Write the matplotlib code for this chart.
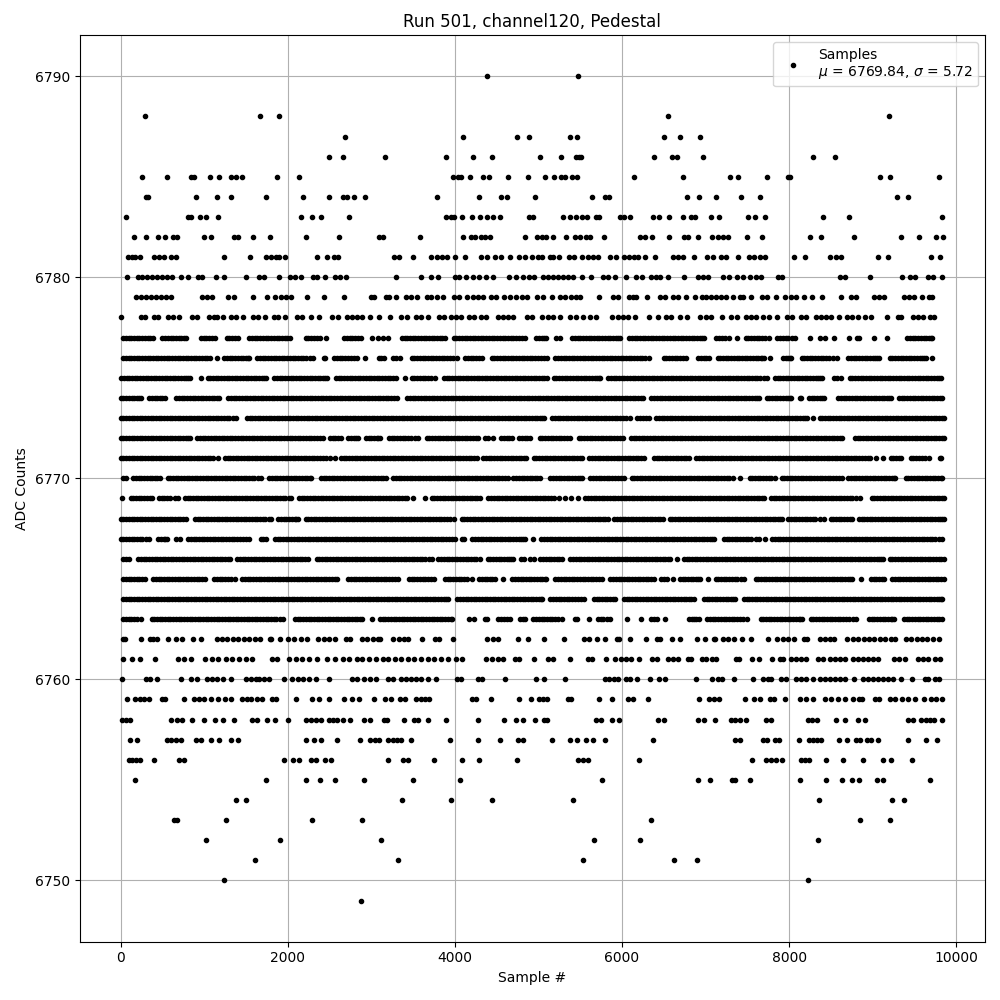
#!/usr/bin/env python3
"""Pedestal scatter for run 501, channel 120."""
import matplotlib
matplotlib.use("Agg")
import matplotlib.pyplot as plt

# Sample numbers per ADC level. The sparse levels are
# dot by dot; the dense levels (6762-6777) overlap too much to count, so they
# are estimates that follow the visible runs and gaps. The d67xx lists hold
# the further dots of those dense runs.
s6790 = [4379, 5473]
s6788 = [295, 1673, 1900, 6551, 9198]
s6787 = [2679, 4092, 4739, 4882, 5377, 5461, 6503, 6695, 6934]
s6786 = [2499, 2655, 3158, 3888, 4212, 4439, 5018, 5269, 5445, 5485, 5513, 6383, 6599, 6663, 6970, 8287, 8551]
s6785 = [259, 559, 838, 878, 1074, 1182, 1325, 1377, 1457, 1876, 2140, 3980, 4032, 4072, 4176, 4339, 4411, 4635, 4870,
         5078, 5186, 5265, 5321, 5401, 5465, 6144, 6731, 7293, 7389, 7736, 7988, 8012, 9090, 9210, 9796]
s6784 = [299, 331, 906, 1158, 1325, 1745, 2188, 2499, 2655, 2707, 2798, 2930, 3780, 4283, 4547, 4619, 4954,
         5641, 5796, 5844, 6778, 6922, 7126, 7425, 7653, 9293, 9425]
s6783 = [68, 806, 846, 954, 1018, 1170, 2164, 2295, 2403, 2727, 3896, 3952, 3992, 4084, 4200, 4295, 4387, 4451, 4535,
         4890, 4930, 5293, 5377, 5449, 5517, 5581, 5685, 5725, 5972, 6020, 6096, 6371, 6443, 6563, 6731, 6827, 6879,
         7066, 7162, 7509, 7593, 7713, 8407, 8719, 9832]
s6782 = [156, 307, 451, 535, 627, 679, 1002, 1078, 1357, 1405, 1589, 1792, 2212, 2607, 3086, 3142, 3577, 4092, 4192,
         4240, 4315, 4363, 4423, 4834, 4978, 5046, 5094, 5174, 5329, 5433, 5493, 5573, 5613, 5784, 6212, 6271, 6359,
         6563, 6739, 6786, 6910, 7082, 7150, 7210, 7269, 7497, 7677, 8251, 8383, 8778, 9341, 9557, 9760, 9844]
s6781 = [88, 140, 168, 236, 399, 459, 519, 599, 659, 1241, 1553, 1737, 1796, 1856, 1896, 1972, 2355, 2475, 2555, 2603,
         3273, 3333, 3493, 3709, 3780, 3844, 3908, 4004, 4116, 4311, 4379, 4479, 4551, 4655, 4770, 4842, 4922, 4994,
         5046, 5134, 5174, 5242, 5365, 5425, 5521, 5593, 5653, 5713, 5852, 5924, 6024, 6084, 6144, 6192, 6275, 6391,
         6611, 6671, 6731, 6862, 7018, 7090, 7190, 7250, 7389, 7517, 7577, 7649, 7713, 8060, 8192, 8487, 8559, 8619,
         9066, 9186, 9701, 9804]
s6780 = [80, 212, 259, 319, 379, 439, 499, 559, 619, 727, 810, 926, 978, 1146, 1237, 1505, 1657, 1717, 1900, 2024, 2088,
         2164, 2303, 2355, 2447, 2567, 2623, 2691, 3301, 3593, 3709, 3792, 3996, 4044, 4132, 4212, 4291, 4371, 4451,
         4651, 4730, 4810, 4890, 4950, 5054, 5114, 5174, 5233, 5293, 5353, 5413, 5521, 5633, 5772, 5832, 5916, 6048,
         6172, 6236, 6347, 6411, 6459, 6551, 6743, 6910, 6970, 7030, 7210, 7281, 7377, 7449, 7529, 7609, 7669, 7868,
         7916, 8607, 8667, 8970, 9353, 9445, 9505, 9665, 9725, 9828]
s6779 = [180, 240, 299, 359, 419, 479, 539, 599, 978, 1038, 1098, 1289, 1361, 1581, 1757, 1844, 1916, 1976, 2036, 2235,
         2439, 2675, 2994, 3034, 3173, 3213, 3301, 3413, 3469, 3541, 3661, 3713, 3780, 3852, 3992, 4052, 4144, 4220,
         4279, 4331, 4431, 4491, 4583, 4663, 4730, 4802, 4858, 4978, 5054, 5166, 5261, 5321, 5393, 5453, 5493, 5725,
         5892, 5952, 6080, 6132, 6172, 6299, 6451, 6511, 6611, 6671, 6770, 6870, 6954, 7010, 7070, 7130, 7190, 7250,
         7329, 7409, 7449, 7545, 7677, 7736, 7844, 7956, 8028, 8088, 8180, 8272, 8395, 8623, 8743, 8806, 9018, 9074,
         9138, 9373, 9433, 9493, 9585, 9673, 9713]
s6778 = [8, 240, 287, 399, 447, 571, 627, 699, 858, 918, 1058, 1118, 1158, 1230, 1317, 1377, 1469, 1589, 1649, 1729,
         1836, 1884, 1964, 2116, 2176, 2275, 2375, 2535, 2595, 2707, 2774, 2834, 2894, 2978, 3086, 3225, 3353, 3425,
         3533, 3593, 3673, 3812, 3872, 3952, 4012, 4072, 4164, 4232, 4311, 4371, 4511, 4571, 4631, 4691, 4858, 4926,
         5046, 5114, 5174, 5253, 5373, 5453, 5533, 5613, 5693, 5884, 5952, 6012, 6072, 6156, 6323, 6431, 6531, 6591,
         6691, 6782, 6930, 7010, 7070, 7202, 7309, 7373, 7489, 7549, 7609, 7689, 7760, 7856, 7980, 8036, 8148, 8208,
         8327, 8387, 8447, 8507, 8599, 8695, 8747, 8826, 8906, 8986, 9174, 9305, 9345, 9485, 9545, 9605, 9685, 9737]
s6777 = [30, 95, 160, 225, 290, 355, 390, 500, 565, 630, 695, 760, 780, 960, 1025, 1090, 1125, 1270, 1335, 1405, 1540,
         1605, 1670, 1735, 1800, 1865, 1930, 1995, 2025, 2215, 2280, 2345, 2390, 2463, 2675, 2740, 2805, 2880, 3002,
         3074, 3134, 3194, 3365, 3430, 3495, 3560, 3625, 3690, 3755, 3820, 3880, 3985, 4050, 4115, 4180, 4245, 4310,
         4375, 4440, 4505, 4570, 4635, 4700, 4765, 4840, 4975, 5040, 5085, 5215, 5260, 5405, 5470, 5535, 5600, 5665,
         5730, 5795, 5860, 5925, 5980, 6085, 6150, 6215, 6280, 6345, 6410, 6475, 6540, 6605, 6670, 6735, 6800, 6865,
         6930, 6980, 7130, 7200, 7275, 7377, 7480, 7545, 7610, 7675, 7755, 7860, 7925, 7990, 8075, 8251, 8365, 8435,
         8535, 8714, 8815, 8835, 9018, 9174, 9415, 9480, 9545, 9610, 9675, 9715]
d6777 = [62, 127, 192, 257, 322, 532, 597, 662, 727, 992, 1057, 1302, 1370, 1572, 1637, 1702, 1767, 1832, 1897, 1962,
         2247, 2312, 2707, 2772, 2842, 3397, 3462, 3527, 3592, 3657, 3722, 3787, 3850, 4017, 4082, 4147, 4212, 4277,
         4342, 4407, 4472, 4537, 4602, 4667, 4732, 4800, 5007, 5062, 5437, 5502, 5567, 5632, 5697, 5762, 5827, 5892,
         5952, 6117, 6182, 6247, 6312, 6377, 6442, 6507, 6572, 6637, 6702, 6767, 6832, 6897, 6955, 7165, 7237, 7512,
         7577, 7642, 7715, 7892, 7957, 8032, 9447, 9512, 9577, 9642, 9695]
s6776 = [30, 95, 160, 225, 290, 355, 420, 485, 550, 615, 680, 745, 810, 875, 940, 1005, 1065, 1158, 1240, 1305, 1370,
         1435, 1500, 1540, 1635, 1700, 1765, 1830, 1895, 1960, 2025, 2090, 2155, 2220, 2300, 2437, 2445, 2557, 2622,
         2687, 2752, 2830, 2926, 3092, 3150, 3255, 3340, 3483, 3548, 3613, 3678, 3743, 3808, 3873, 3938, 4020, 4122,
         4187, 4252, 4320, 4441, 4506, 4571, 4636, 4701, 4766, 4831, 4896, 4961, 5026, 5100, 5203, 5268, 5333, 5398,
         5463, 5528, 5593, 5658, 5723, 5788, 5853, 5918, 5983, 6048, 6113, 6178, 6243, 6320, 6500, 6565, 6630, 6695,
         6765, 6912, 6977, 7040, 7144, 7209, 7274, 7339, 7404, 7469, 7534, 7599, 7664, 7698, 7776, 7926, 7990, 8026,
         8150, 8215, 8280, 8345, 8410, 8475, 8575, 8709, 8774, 8839, 8904, 8969, 9034, 9075, 9204, 9269, 9334, 9399,
         9464, 9529, 9594, 9635, 9713]
d6776 = [62, 127, 192, 257, 322, 387, 452, 517, 582, 647, 712, 777, 842, 907, 972, 1035, 1272, 1337, 1402, 1467, 1520,
         1667, 1732, 1797, 1862, 1927, 1992, 2057, 2122, 2187, 2260, 2589, 2654, 2719, 2791, 3121, 3297, 3515, 3580,
         3645, 3710, 3775, 3840, 3905, 3979, 4154, 4219, 4286, 4473, 4538, 4603, 4668, 4733, 4798, 4863, 4928, 4993,
         5063, 5235, 5300, 5365, 5430, 5495, 5560, 5625, 5690, 5755, 5820, 5885, 5950, 6015, 6080, 6145, 6210, 6281,
         6532, 6597, 6662, 6730, 6944, 7008, 7176, 7241, 7306, 7371, 7436, 7501, 7566, 7631, 7681, 7958, 8008, 8182,
         8247, 8312, 8377, 8442, 8525, 8741, 8806, 8871, 8936, 9001, 9055, 9236, 9301, 9366, 9431, 9496, 9561, 9615]
s6775 = [5, 70, 135, 200, 265, 330, 395, 460, 525, 590, 655, 720, 785, 826, 958, 1040, 1105, 1170, 1235, 1300, 1365,
         1430, 1495, 1560, 1625, 1690, 1745, 1838, 1903, 1968, 2033, 2098, 2163, 2228, 2293, 2358, 2423, 2465, 2577,
         2642, 2707, 2772, 2837, 2902, 2967, 3032, 3097, 3162, 3227, 3300, 3401, 3483, 3548, 3613, 3678, 3760, 3870,
         3935, 4000, 4065, 4130, 4195, 4260, 4325, 4390, 4455, 4520, 4585, 4650, 4715, 4780, 4845, 4910, 4975, 5040,
         5103, 5184, 5249, 5314, 5379, 5444, 5509, 5574, 5639, 5704, 5734, 5834, 5899, 5964, 6029, 6094, 6159, 6224,
         6289, 6354, 6419, 6484, 6549, 6614, 6679, 6744, 6809, 6874, 6939, 7004, 7069, 7134, 7199, 7264, 7329, 7394,
         7459, 7524, 7589, 7654, 7738, 7830, 7895, 7960, 8025, 8090, 8155, 8220, 8285, 8350, 8396, 8537, 8616, 8725,
         8790, 8855, 8920, 8985, 9050, 9115, 9180, 9245, 9310, 9375, 9440, 9505, 9570, 9635, 9700, 9765, 9813]
d6775 = [37, 102, 167, 232, 297, 362, 427, 492, 557, 622, 687, 752, 805, 1072, 1137, 1202, 1267, 1332, 1397, 1462, 1527,
         1592, 1657, 1718, 1870, 1935, 2000, 2065, 2130, 2195, 2260, 2325, 2390, 2445, 2609, 2674, 2739, 2804, 2869,
         2934, 2999, 3064, 3129, 3194, 3263, 3515, 3580, 3645, 3719, 3902, 3967, 4032, 4097, 4162, 4227, 4292, 4357,
         4422, 4487, 4552, 4617, 4682, 4747, 4812, 4877, 4942, 5007, 5072, 5216, 5281, 5346, 5411, 5476, 5541, 5606,
         5671, 5719, 5866, 5931, 5996, 6061, 6126, 6191, 6256, 6321, 6386, 6451, 6516, 6581, 6646, 6711, 6776, 6841,
         6906, 6971, 7036, 7101, 7166, 7231, 7296, 7361, 7426, 7491, 7556, 7621, 7696, 7862, 7927, 7992, 8057, 8122,
         8187, 8252, 8317, 8373, 8575, 8757, 8822, 8887, 8952, 9017, 9082, 9147, 9212, 9277, 9342, 9407, 9472, 9537,
         9602, 9667, 9732, 9789]
s6774 = [0, 65, 130, 195, 248, 341, 406, 471, 528, 665, 730, 795, 860, 925, 990, 1055, 1120, 1178, 1287, 1352, 1417,
         1482, 1547, 1612, 1677, 1742, 1807, 1872, 1937, 2002, 2067, 2132, 2197, 2262, 2327, 2392, 2457, 2522, 2587,
         2652, 2717, 2782, 2847, 2912, 2977, 3042, 3107, 3172, 3237, 3302, 3430, 3495, 3560, 3625, 3690, 3755, 3820,
         3885, 3950, 4015, 4080, 4145, 4210, 4275, 4340, 4405, 4470, 4535, 4600, 4665, 4730, 4795, 4860, 4925, 4990,
         5055, 5120, 5185, 5250, 5315, 5380, 5445, 5510, 5575, 5640, 5705, 5770, 5835, 5900, 5965, 6030, 6095, 6160,
         6225, 6252, 6353, 6418, 6483, 6548, 6613, 6678, 6743, 6808, 6873, 6938, 7003, 7068, 7133, 7198, 7263, 7328,
         7393, 7458, 7523, 7588, 7637, 7731, 7796, 7861, 7926, 7991, 8028, 8130, 8145, 8238, 8303, 8368, 8415, 8589,
         8654, 8719, 8784, 8849, 8914, 8979, 9044, 9109, 9174, 9214, 9315, 9380, 9445, 9510, 9575, 9640, 9705, 9770,
         9832]
d6774 = [32, 97, 162, 225, 373, 438, 500, 697, 762, 827, 892, 957, 1022, 1087, 1150, 1319, 1384, 1449, 1514, 1579, 1644,
         1709, 1774, 1839, 1904, 1969, 2034, 2099, 2164, 2229, 2294, 2359, 2424, 2489, 2554, 2619, 2684, 2749, 2814,
         2879, 2944, 3009, 3074, 3139, 3204, 3270, 3462, 3527, 3592, 3657, 3722, 3787, 3852, 3917, 3982, 4047, 4112,
         4177, 4242, 4307, 4372, 4437, 4502, 4567, 4632, 4697, 4762, 4827, 4892, 4957, 5022, 5087, 5152, 5217, 5282,
         5347, 5412, 5477, 5542, 5607, 5672, 5737, 5802, 5867, 5932, 5997, 6062, 6127, 6192, 6385, 6450, 6515, 6580,
         6645, 6710, 6775, 6840, 6905, 6970, 7035, 7100, 7165, 7230, 7295, 7360, 7425, 7490, 7555, 7620, 7763, 7828,
         7893, 7958, 8010, 8270, 8335, 8392, 8621, 8686, 8751, 8816, 8881, 8946, 9011, 9076, 9141, 9195, 9347, 9412,
         9477, 9542, 9607, 9672, 9737, 9802]
s6773 = [0, 65, 130, 195, 260, 325, 390, 455, 520, 585, 650, 715, 780, 845, 910, 975, 1040, 1105, 1170, 1235, 1300,
         1385, 1510, 1575, 1640, 1705, 1770, 1835, 1900, 1965, 2030, 2095, 2160, 2225, 2290, 2355, 2420, 2485, 2550,
         2615, 2680, 2745, 2810, 2875, 2940, 3005, 3070, 3135, 3200, 3265, 3330, 3395, 3460, 3525, 3590, 3655, 3720,
         3785, 3850, 3915, 3980, 4045, 4110, 4175, 4240, 4305, 4370, 4435, 4500, 4565, 4630, 4695, 4760, 4825, 4890,
         4955, 5020, 5062, 5164, 5229, 5294, 5359, 5424, 5489, 5554, 5619, 5684, 5749, 5814, 5879, 5944, 6009, 6092,
         6184, 6249, 6319, 6409, 6474, 6539, 6604, 6669, 6734, 6799, 6864, 6929, 6994, 7059, 7124, 7189, 7254, 7319,
         7384, 7449, 7514, 7579, 7644, 7709, 7774, 7839, 7904, 7969, 8034, 8099, 8164, 8215, 8287, 8365, 8430, 8495,
         8560, 8625, 8690, 8755, 8820, 8885, 8950, 9015, 9080, 9145, 9210, 9275, 9340, 9405, 9470, 9535, 9600, 9665,
         9730, 9795, 9852]
d6773 = [32, 97, 162, 227, 292, 357, 422, 487, 552, 617, 682, 747, 812, 877, 942, 1007, 1072, 1137, 1202, 1267, 1342,
         1542, 1607, 1672, 1737, 1802, 1867, 1932, 1997, 2062, 2127, 2192, 2257, 2322, 2387, 2452, 2517, 2582, 2647,
         2712, 2777, 2842, 2907, 2972, 3037, 3102, 3167, 3232, 3297, 3362, 3427, 3492, 3557, 3622, 3687, 3752, 3817,
         3882, 3947, 4012, 4077, 4142, 4207, 4272, 4337, 4402, 4467, 4532, 4597, 4662, 4727, 4792, 4857, 4922, 4987,
         5040, 5196, 5261, 5326, 5391, 5456, 5521, 5586, 5651, 5716, 5781, 5846, 5911, 5976, 6050, 6216, 6284, 6441,
         6506, 6571, 6636, 6701, 6766, 6831, 6896, 6961, 7026, 7091, 7156, 7221, 7286, 7351, 7416, 7481, 7546, 7611,
         7676, 7741, 7806, 7871, 7936, 8001, 8066, 8131, 8190, 8397, 8462, 8527, 8592, 8657, 8722, 8787, 8852, 8917,
         8982, 9047, 9112, 9177, 9242, 9307, 9372, 9437, 9502, 9567, 9632, 9697, 9762, 9825]
s6772 = [0, 65, 130, 195, 260, 325, 390, 455, 520, 585, 650, 715, 780, 826, 916, 981, 1046, 1111, 1176, 1241, 1306,
         1371, 1436, 1501, 1566, 1631, 1696, 1761, 1826, 1891, 1956, 2021, 2086, 2151, 2216, 2281, 2346, 2423, 2505,
         2570, 2631, 2725, 2790, 2842, 2936, 3001, 3066, 3102, 3212, 3277, 3342, 3407, 3472, 3561, 3663, 3728, 3793,
         3858, 3923, 3988, 4053, 4118, 4183, 4248, 4279, 4361, 4459, 4553, 4618, 4678, 4772, 4837, 4898, 5018, 5048,
         5113, 5178, 5243, 5308, 5381, 5483, 5548, 5613, 5678, 5743, 5808, 5873, 5938, 6012, 6106, 6171, 6236, 6301,
         6366, 6431, 6496, 6561, 6626, 6691, 6756, 6821, 6886, 6951, 7016, 7081, 7146, 7211, 7276, 7341, 7406, 7471,
         7536, 7601, 7666, 7731, 7796, 7861, 7926, 7991, 8056, 8121, 8186, 8251, 8316, 8381, 8446, 8511, 8576, 8635,
         8788, 8853, 8918, 8983, 9048, 9113, 9178, 9243, 9308, 9373, 9438, 9503, 9568, 9633, 9698, 9763, 9852]
d6772 = [32, 97, 162, 227, 292, 357, 422, 487, 552, 617, 682, 747, 805, 948, 1013, 1078, 1143, 1208, 1273, 1338, 1403,
         1468, 1533, 1598, 1663, 1728, 1793, 1858, 1923, 1988, 2053, 2118, 2183, 2248, 2313, 2390, 2537, 2600, 2757,
         2815, 2968, 3033, 3085, 3244, 3309, 3374, 3439, 3520, 3695, 3760, 3825, 3890, 3955, 4020, 4085, 4150, 4215,
         4400, 4585, 4648, 4804, 4868, 5080, 5145, 5210, 5275, 5345, 5515, 5580, 5645, 5710, 5775, 5840, 5905, 5975,
         6138, 6203, 6268, 6333, 6398, 6463, 6528, 6593, 6658, 6723, 6788, 6853, 6918, 6983, 7048, 7113, 7178, 7243,
         7308, 7373, 7438, 7503, 7568, 7633, 7698, 7763, 7828, 7893, 7958, 8023, 8088, 8153, 8218, 8283, 8348, 8413,
         8478, 8543, 8608, 8820, 8885, 8950, 9015, 9080, 9145, 9210, 9275, 9340, 9405, 9470, 9535, 9600, 9665, 9730,
         9795, 9825]
s6771 = [0, 65, 130, 195, 260, 325, 390, 455, 520, 585, 650, 715, 780, 845, 910, 975, 1040, 1106, 1170, 1247, 1312,
         1377, 1442, 1507, 1572, 1637, 1702, 1767, 1832, 1897, 1962, 2027, 2092, 2157, 2222, 2287, 2352, 2417, 2503,
         2567, 2637, 2702, 2767, 2832, 2897, 2962, 3027, 3092, 3157, 3222, 3287, 3352, 3417, 3482, 3547, 3612, 3677,
         3742, 3807, 3872, 3937, 4002, 4067, 4132, 4197, 4259, 4341, 4406, 4471, 4536, 4601, 4666, 4731, 4796, 4850,
         4944, 5009, 5074, 5139, 5204, 5269, 5334, 5399, 5464, 5521, 5611, 5676, 5741, 5806, 5871, 5936, 6001, 6066,
         6131, 6196, 6261, 6381, 6446, 6511, 6576, 6641, 6706, 6771, 6798, 6888, 6953, 7018, 7083, 7148, 7213, 7278,
         7343, 7408, 7473, 7538, 7603, 7668, 7733, 7798, 7863, 7928, 7993, 8058, 8123, 8188, 8253, 8318, 8383, 8448,
         8513, 8578, 8643, 8708, 8773, 8838, 8903, 8974, 9046, 9126, 9216, 9281, 9345, 9455, 9520, 9585, 9673, 9802,
         9812]
d6771 = [32, 97, 162, 227, 292, 357, 422, 487, 552, 617, 682, 747, 812, 877, 942, 1007, 1072, 1279, 1344, 1409, 1474,
         1539, 1604, 1669, 1734, 1799, 1864, 1929, 1994, 2059, 2124, 2189, 2254, 2319, 2384, 2460, 2669, 2734, 2799,
         2864, 2929, 2994, 3059, 3124, 3189, 3254, 3319, 3384, 3449, 3514, 3579, 3644, 3709, 3774, 3839, 3904, 3969,
         4034, 4099, 4164, 4228, 4373, 4438, 4503, 4568, 4633, 4698, 4763, 4823, 4976, 5041, 5106, 5171, 5236, 5301,
         5366, 5431, 5495, 5643, 5708, 5773, 5838, 5903, 5968, 6033, 6098, 6163, 6228, 6413, 6478, 6543, 6608, 6673,
         6738, 6920, 6985, 7050, 7115, 7180, 7245, 7310, 7375, 7440, 7505, 7570, 7635, 7700, 7765, 7830, 7895, 7960,
         8025, 8090, 8155, 8220, 8285, 8350, 8415, 8480, 8545, 8610, 8675, 8740, 8805, 8870, 8940, 9248, 9315, 9487,
         9552, 9630]
s6770 = [30, 68, 150, 215, 280, 345, 410, 467, 561, 626, 691, 756, 821, 886, 951, 1016, 1081, 1146, 1211, 1276, 1341,
         1406, 1471, 1536, 1601, 1685, 1779, 1844, 1909, 1974, 2039, 2104, 2169, 2234, 2283, 2397, 2462, 2527, 2592,
         2657, 2722, 2787, 2852, 2917, 2982, 3047, 3112, 3181, 3263, 3328, 3393, 3458, 3523, 3588, 3653, 3718, 3783,
         3848, 3913, 3978, 4043, 4108, 4173, 4238, 4303, 4368, 4433, 4498, 4563, 4639, 4701, 4766, 4831, 4896, 4961,
         5014, 5144, 5209, 5274, 5339, 5404, 5469, 5521, 5623, 5688, 5753, 5818, 5883, 5948, 6020, 6114, 6179, 6244,
         6309, 6374, 6439, 6504, 6569, 6634, 6699, 6764, 6829, 6894, 6959, 7024, 7089, 7154, 7219, 7284, 7329, 7417,
         7527, 7592, 7657, 7722, 7787, 7836, 7910, 7975, 8040, 8105, 8170, 8235, 8300, 8365, 8430, 8495, 8560, 8635,
         8709, 8774, 8839, 8904, 8969, 9034, 9099, 9164, 9229, 9273, 9395, 9460, 9525, 9590, 9655, 9720, 9785, 9832]
d6770 = [182, 247, 312, 377, 440, 593, 658, 723, 788, 853, 918, 983, 1048, 1113, 1178, 1243, 1308, 1373, 1438, 1503,
         1568, 1640, 1811, 1876, 1941, 2006, 2071, 2136, 2201, 2260, 2429, 2494, 2559, 2624, 2689, 2754, 2819, 2884,
         2949, 3014, 3079, 3145, 3295, 3360, 3425, 3490, 3555, 3620, 3685, 3750, 3815, 3880, 3945, 4010, 4075, 4140,
         4205, 4270, 4335, 4400, 4465, 4530, 4600, 4733, 4798, 4863, 4928, 4988, 5176, 5241, 5306, 5371, 5436, 5495,
         5655, 5720, 5785, 5850, 5915, 5985, 6146, 6211, 6276, 6341, 6406, 6471, 6536, 6601, 6666, 6731, 6796, 6861,
         6926, 6991, 7056, 7121, 7186, 7251, 7559, 7624, 7689, 7754, 7942, 8007, 8072, 8137, 8202, 8267, 8332, 8397,
         8462, 8527, 8597, 8741, 8806, 8871, 8936, 9001, 9066, 9131, 9196, 9250, 9427, 9492, 9557, 9622, 9687, 9752, 9812]
s6769 = [12, 118, 183, 248, 313, 379, 457, 522, 587, 687, 769, 834, 899, 964, 1029, 1094, 1159, 1224, 1289, 1354, 1419,
         1484, 1549, 1614, 1679, 1744, 1809, 1874, 1939, 2044, 2134, 2199, 2264, 2329, 2394, 2459, 2524, 2589, 2654,
         2719, 2784, 2849, 2914, 2979, 3044, 3109, 3174, 3239, 3304, 3369, 3421, 3503, 3641, 3723, 3788, 3853, 3918,
         3983, 4048, 4113, 4178, 4243, 4299, 4401, 4466, 4531, 4596, 4661, 4726, 4791, 4856, 4921, 4986, 5051, 5116,
         5182, 5245, 5313, 5393, 5473, 5563, 5628, 5693, 5758, 5823, 5888, 5953, 6018, 6083, 6148, 6213, 6278, 6343,
         6408, 6473, 6538, 6603, 6668, 6733, 6798, 6863, 6928, 6993, 7058, 7123, 7188, 7253, 7318, 7383, 7448, 7513,
         7578, 7643, 7697, 7782, 7847, 7912, 7977, 8042, 8107, 8172, 8237, 8302, 8367, 8432, 8497, 8562, 8627, 8692,
         8757, 8846, 8988, 9053, 9118, 9183, 9248, 9313, 9378, 9443, 9508, 9573, 9638, 9703, 9768, 9852]
d6769 = [150, 215, 280, 346, 489, 554, 650, 801, 866, 931, 996, 1061, 1126, 1191, 1256, 1321, 1386, 1451, 1516, 1581,
         1646, 1711, 1776, 1841, 1906, 1971, 2010, 2166, 2231, 2296, 2361, 2426, 2491, 2556, 2621, 2686, 2751, 2816,
         2881, 2946, 3011, 3076, 3141, 3206, 3271, 3336, 3400, 3755, 3820, 3885, 3950, 4015, 4080, 4145, 4210, 4270,
         4433, 4498, 4563, 4628, 4693, 4758, 4823, 4888, 4953, 5018, 5083, 5150, 5595, 5660, 5725, 5790, 5855, 5920,
         5985, 6050, 6115, 6180, 6245, 6310, 6375, 6440, 6505, 6570, 6635, 6700, 6765, 6830, 6895, 6960, 7025, 7090,
         7155, 7220, 7285, 7350, 7415, 7480, 7545, 7610, 7670, 7814, 7879, 7944, 8009, 8074, 8139, 8204, 8269, 8334,
         8399, 8464, 8529, 8594, 8659, 8724, 8800, 9020, 9085, 9150, 9215, 9280, 9345, 9410, 9475, 9540, 9605, 9670,
         9735, 9800, 9830]
s6768 = [0, 65, 130, 195, 260, 325, 390, 455, 520, 585, 650, 715, 786, 888, 953, 1018, 1083, 1148, 1213, 1278, 1343,
         1408, 1473, 1538, 1603, 1668, 1733, 1804, 1886, 1951, 2016, 2081, 2123, 2213, 2278, 2343, 2408, 2473, 2538,
         2603, 2668, 2733, 2798, 2863, 2928, 2993, 3058, 3123, 3188, 3253, 3318, 3383, 3448, 3513, 3578, 3643, 3708,
         3773, 3838, 3903, 3988, 4082, 4147, 4212, 4277, 4342, 4407, 4472, 4537, 4602, 4667, 4732, 4797, 4862, 4927,
         4992, 5057, 5122, 5187, 5252, 5317, 5382, 5447, 5512, 5577, 5642, 5707, 5772, 5832, 5910, 5975, 6040, 6105,
         6170, 6235, 6300, 6365, 6430, 6491, 6569, 6634, 6699, 6764, 6829, 6894, 6959, 7024, 7089, 7154, 7219, 7284,
         7349, 7414, 7479, 7544, 7609, 7674, 7739, 7804, 7869, 7916, 7990, 8055, 8120, 8185, 8250, 8315, 8415, 8497,
         8562, 8627, 8692, 8754, 8836, 8901, 8966, 9031, 9096, 9161, 9226, 9291, 9356, 9421, 9486, 9551, 9616, 9681,
         9746, 9811, 9852]
d6768 = [32, 97, 162, 227, 292, 357, 422, 487, 552, 617, 682, 750, 920, 985, 1050, 1115, 1180, 1245, 1310, 1375, 1440,
         1505, 1570, 1635, 1700, 1770, 1918, 1983, 2048, 2102, 2245, 2310, 2375, 2440, 2505, 2570, 2635, 2700, 2765,
         2830, 2895, 2960, 3025, 3090, 3155, 3220, 3285, 3350, 3415, 3480, 3545, 3610, 3675, 3740, 3805, 3870, 3945,
         4114, 4179, 4244, 4309, 4374, 4439, 4504, 4569, 4634, 4699, 4764, 4829, 4894, 4959, 5024, 5089, 5154, 5219,
         5284, 5349, 5414, 5479, 5544, 5609, 5674, 5739, 5800, 5942, 6007, 6072, 6137, 6202, 6267, 6332, 6397, 6460,
         6601, 6666, 6731, 6796, 6861, 6926, 6991, 7056, 7121, 7186, 7251, 7316, 7381, 7446, 7511, 7576, 7641, 7706,
         7771, 7836, 7893, 8022, 8087, 8152, 8217, 8282, 8365, 8529, 8594, 8659, 8725, 8868, 8933, 8998, 9063, 9128,
         9193, 9258, 9323, 9388, 9453, 9518, 9583, 9648, 9713, 9778, 9832]
s6767 = [0, 65, 130, 195, 260, 339, 449, 514, 555, 657, 715, 808, 873, 938, 1003, 1068, 1133, 1198, 1263, 1328, 1393,
         1458, 1537, 1679, 1736, 1846, 1911, 1976, 2041, 2106, 2171, 2236, 2301, 2366, 2431, 2496, 2561, 2626, 2691,
         2756, 2821, 2886, 2951, 3016, 3081, 3146, 3211, 3276, 3341, 3406, 3471, 3536, 3601, 3666, 3731, 3796, 3861,
         3926, 4000, 4082, 4108, 4210, 4275, 4340, 4405, 4470, 4535, 4600, 4665, 4730, 4795, 4838, 4930, 5036, 5101,
         5166, 5231, 5296, 5361, 5426, 5491, 5556, 5621, 5686, 5751, 5816, 5881, 5946, 6011, 6076, 6141, 6206, 6271,
         6336, 6401, 6466, 6531, 6596, 6661, 6726, 6791, 6856, 6921, 6986, 7051, 7098, 7220, 7285, 7350, 7415, 7480,
         7545, 7637, 7717, 7798, 7863, 7928, 7993, 8058, 8123, 8188, 8253, 8318, 8383, 8448, 8513, 8578, 8643, 8708,
         8773, 8838, 8903, 8968, 9033, 9098, 9163, 9228, 9293, 9358, 9423, 9488, 9553, 9618, 9683, 9748, 9832]
d6767 = [32, 97, 162, 227, 300, 481, 535, 840, 905, 970, 1035, 1100, 1165, 1230, 1295, 1360, 1425, 1500, 1708, 1878,
         1943, 2008, 2073, 2138, 2203, 2268, 2333, 2398, 2463, 2528, 2593, 2658, 2723, 2788, 2853, 2918, 2983, 3048,
         3113, 3178, 3243, 3308, 3373, 3438, 3503, 3568, 3633, 3698, 3763, 3828, 3893, 3960, 4242, 4307, 4372, 4437,
         4502, 4567, 4632, 4697, 4762, 4815, 5068, 5133, 5198, 5263, 5328, 5393, 5458, 5523, 5588, 5653, 5718, 5783,
         5848, 5913, 5978, 6043, 6108, 6173, 6238, 6303, 6368, 6433, 6498, 6563, 6628, 6693, 6758, 6823, 6888, 6953,
         7018, 7075, 7252, 7317, 7382, 7447, 7512, 7600, 7830, 7895, 7960, 8025, 8090, 8155, 8220, 8285, 8350, 8415,
         8480, 8545, 8610, 8675, 8740, 8805, 8870, 8935, 9000, 9065, 9130, 9195, 9260, 9325, 9390, 9455, 9520, 9585,
         9650, 9715, 9790]
s6766 = [30, 96, 210, 275, 340, 405, 470, 535, 600, 665, 730, 795, 860, 925, 990, 1055, 1120, 1185, 1250, 1305, 1395,
         1460, 1525, 1590, 1655, 1720, 1785, 1850, 1915, 1980, 2045, 2110, 2175, 2243, 2345, 2410, 2475, 2540, 2605,
         2670, 2735, 2800, 2865, 2930, 2995, 3060, 3125, 3190, 3255, 3320, 3385, 3450, 3515, 3580, 3645, 3721, 3803,
         3868, 3933, 3998, 4063, 4128, 4193, 4258, 4299, 4393, 4458, 4523, 4588, 4653, 4698, 4790, 4830, 4900, 4950,
         5024, 5089, 5154, 5219, 5281, 5383, 5448, 5513, 5578, 5643, 5708, 5773, 5838, 5903, 5968, 6033, 6098, 6163,
         6228, 6293, 6358, 6423, 6488, 6553, 6579, 6659, 6741, 6806, 6871, 6936, 7001, 7066, 7131, 7196, 7261, 7326,
         7391, 7456, 7521, 7586, 7651, 7716, 7781, 7846, 7911, 7976, 8041, 8106, 8171, 8236, 8301, 8366, 8431, 8496,
         8561, 8626, 8691, 8756, 8821, 8886, 8951, 9016, 9081, 9126, 9204, 9269, 9334, 9399, 9464, 9529, 9594, 9659,
         9724, 9789, 9852]
d6766 = [62, 242, 307, 372, 437, 502, 567, 632, 697, 762, 827, 892, 957, 1022, 1087, 1152, 1217, 1280, 1427, 1492, 1557,
         1622, 1687, 1752, 1817, 1882, 1947, 2012, 2077, 2142, 2210, 2377, 2442, 2507, 2572, 2637, 2702, 2767, 2832,
         2897, 2962, 3027, 3092, 3157, 3222, 3287, 3352, 3417, 3482, 3547, 3612, 3685, 3835, 3900, 3965, 4030, 4095,
         4160, 4225, 4425, 4490, 4555, 4620, 4676, 5056, 5121, 5186, 5250, 5415, 5480, 5545, 5610, 5675, 5740, 5805,
         5870, 5935, 6000, 6065, 6130, 6195, 6260, 6325, 6390, 6455, 6520, 6773, 6838, 6903, 6968, 7033, 7098, 7163,
         7228, 7293, 7358, 7423, 7488, 7553, 7618, 7683, 7748, 7813, 7878, 7943, 8008, 8073, 8138, 8203, 8268, 8333,
         8398, 8463, 8528, 8593, 8658, 8723, 8788, 8853, 8918, 8983, 9048, 9105, 9236, 9301, 9366, 9431, 9496, 9561,
         9626, 9691, 9756, 9820]
s6765 = [30, 95, 160, 225, 287, 389, 454, 519, 584, 649, 714, 779, 844, 909, 974, 1006, 1120, 1185, 1250, 1315, 1365,
         1455, 1520, 1585, 1650, 1715, 1780, 1845, 1910, 1975, 2040, 2105, 2170, 2235, 2300, 2365, 2430, 2495, 2560,
         2583, 2725, 2790, 2855, 2920, 2985, 3050, 3115, 3180, 3245, 3321, 3451, 3516, 3581, 3646, 3711, 3748, 3882,
         3947, 4012, 4077, 4142, 4200, 4293, 4358, 4423, 4479, 4571, 4689, 4754, 4819, 4884, 4949, 5014, 5079, 5094,
         5203, 5268, 5333, 5398, 5463, 5528, 5593, 5658, 5723, 5760, 5862, 5927, 5992, 6057, 6122, 6187, 6252, 6317,
         6379, 6461, 6539, 6611, 6693, 6758, 6823, 6888, 6938, 7030, 7120, 7185, 7250, 7315, 7380, 7465, 7599, 7664,
         7729, 7794, 7859, 7924, 7989, 8054, 8119, 8184, 8249, 8314, 8379, 8444, 8509, 8574, 8639, 8704, 8754, 8866,
         8980, 9045, 9110, 9134, 9235, 9300, 9365, 9430, 9495, 9560, 9625, 9690, 9755, 9820, 9852]
d6765 = [62, 127, 192, 257, 421, 486, 551, 616, 681, 746, 811, 876, 941, 1152, 1217, 1282, 1487, 1552, 1617, 1682, 1747,
         1812, 1877, 1942, 2007, 2072, 2137, 2202, 2267, 2332, 2397, 2462, 2527, 2757, 2822, 2887, 2952, 3017, 3082,
         3147, 3212, 3280, 3483, 3548, 3613, 3678, 3914, 3979, 4044, 4109, 4325, 4390, 4450, 4721, 4786, 4851, 4916,
         4981, 5046, 5235, 5300, 5365, 5430, 5495, 5560, 5625, 5690, 5894, 5959, 6024, 6089, 6154, 6219, 6284, 6349,
         6500, 6725, 6790, 6855, 6915, 7152, 7217, 7282, 7347, 7430, 7631, 7696, 7761, 7826, 7891, 7956, 8021, 8086,
         8151, 8216, 8281, 8346, 8411, 8476, 8541, 8606, 8671, 8730, 9012, 9078, 9267, 9332, 9397, 9462, 9527, 9592,
         9657, 9722, 9787]
s6764 = [30, 95, 160, 225, 290, 355, 420, 485, 550, 615, 680, 745, 810, 875, 940, 1005, 1070, 1135, 1200, 1265, 1330,
         1395, 1460, 1525, 1590, 1655, 1720, 1785, 1850, 1915, 1980, 2045, 2110, 2175, 2240, 2305, 2370, 2435, 2500,
         2565, 2630, 2695, 2760, 2825, 2890, 2955, 3020, 3085, 3150, 3215, 3280, 3345, 3410, 3475, 3540, 3605, 3670,
         3735, 3800, 3865, 3920, 4030, 4095, 4160, 4225, 4290, 4355, 4420, 4485, 4550, 4615, 4680, 4745, 4810, 4875,
         4940, 5005, 5042, 5144, 5209, 5274, 5339, 5404, 5469, 5541, 5663, 5728, 5793, 5858, 5920, 6022, 6087, 6152,
         6217, 6282, 6347, 6412, 6477, 6542, 6607, 6672, 6737, 6802, 6858, 6980, 7045, 7110, 7175, 7240, 7305, 7357,
         7459, 7524, 7589, 7654, 7719, 7784, 7849, 7914, 7979, 8044, 8109, 8174, 8239, 8304, 8369, 8434, 8499, 8564,
         8629, 8694, 8759, 8824, 8889, 8954, 9019, 9084, 9149, 9214, 9279, 9344, 9409, 9474, 9539, 9604, 9669, 9734,
         9799, 9832]
d6764 = [62, 127, 192, 257, 322, 387, 452, 517, 582, 647, 712, 777, 842, 907, 972, 1037, 1102, 1167, 1232, 1297, 1362,
         1427, 1492, 1557, 1622, 1687, 1752, 1817, 1882, 1947, 2012, 2077, 2142, 2207, 2272, 2337, 2402, 2467, 2532,
         2597, 2662, 2727, 2792, 2857, 2922, 2987, 3052, 3117, 3182, 3247, 3312, 3377, 3442, 3507, 3572, 3637, 3702,
         3767, 3832, 3895, 4062, 4127, 4192, 4257, 4322, 4387, 4452, 4517, 4582, 4647, 4712, 4777, 4842, 4907, 4972,
         5025, 5176, 5241, 5306, 5371, 5436, 5505, 5695, 5760, 5825, 5890, 6054, 6119, 6184, 6249, 6314, 6379, 6444,
         6509, 6574, 6639, 6704, 6769, 6830, 7012, 7077, 7142, 7207, 7272, 7332, 7491, 7556, 7621, 7686, 7751, 7816,
         7881, 7946, 8011, 8076, 8141, 8206, 8271, 8336, 8401, 8466, 8531, 8596, 8661, 8726, 8791, 8856, 8921, 8986,
         9051, 9116, 9181, 9246, 9311, 9376, 9441, 9506, 9571, 9636, 9701, 9766, 9816]
s6763 = [30, 95, 160, 239, 369, 434, 499, 564, 629, 694, 759, 824, 889, 954, 1019, 1084, 1149, 1214, 1279, 1344, 1409,
         1474, 1539, 1604, 1669, 1734, 1799, 1864, 1944, 2086, 2151, 2216, 2281, 2346, 2411, 2476, 2541, 2606, 2671,
         2736, 2801, 2866, 2894, 3002, 3104, 3169, 3234, 3299, 3364, 3429, 3494, 3559, 3624, 3689, 3754, 3819, 3884,
         3949, 3960, 4164, 4232, 4361, 4379, 4521, 4586, 4659, 4780, 4838, 4940, 5005, 5070, 5135, 5200, 5281, 5443,
         5461, 5605, 5711, 5776, 5860, 6062, 6228, 6353, 6419, 6515, 6800, 6865, 6918, 7020, 7085, 7150, 7215, 7280,
         7345, 7410, 7497, 7659, 7724, 7789, 7854, 7919, 7984, 8049, 8114, 8156, 8258, 8323, 8388, 8453, 8518, 8583,
         8648, 8713, 8806, 8956, 9021, 9086, 9151, 9216, 9253, 9375, 9440, 9505, 9570, 9635, 9700, 9765, 9832]
d6763 = [62, 127, 200, 401, 466, 531, 596, 661, 726, 791, 856, 921, 986, 1051, 1116, 1181, 1246, 1311, 1376, 1441, 1506,
         1571, 1636, 1701, 1766, 1831, 1905, 2118, 2183, 2248, 2313, 2378, 2443, 2508, 2573, 2638, 2703, 2768, 2833,
         3136, 3201, 3266, 3331, 3396, 3461, 3526, 3591, 3656, 3721, 3786, 3851, 3916, 4553, 4620, 4810, 4972, 5037,
         5102, 5167, 5240, 5745, 5820, 6387, 6832, 6890, 7052, 7117, 7182, 7247, 7312, 7377, 7450, 7691, 7756, 7821,
         7886, 7951, 8016, 8081, 8135, 8290, 8355, 8420, 8485, 8550, 8615, 8680, 8760, 8988, 9053, 9118, 9183, 9235,
         9407, 9472, 9537, 9602, 9667, 9732, 9800]
s6762 = [30, 50, 247, 349, 389, 429, 571, 667, 739, 868, 966, 1148, 1213, 1278, 1343, 1408, 1473, 1538, 1603, 1665,
         1787, 1804, 1912, 2008, 2076, 2156, 2224, 2365, 2430, 2495, 2563, 2697, 2742, 2884, 2949, 3014, 3079, 3102,
         3263, 3328, 3393, 3441, 3603, 3763, 3812, 3972, 4389, 4454, 4519, 4750, 4870, 5064, 5303, 5543, 5601, 5701,
         5802, 5942, 5962, 6096, 6282, 6421, 6451, 6601, 6699, 6902, 6998, 7100, 7118, 7210, 7269, 7341, 7441, 7545,
         7749, 7858, 7923, 7988, 8056, 8178, 8215, 8365, 8430, 8495, 8535, 8697, 8762, 8827, 8892, 8957, 9022, 9087,
         9152, 9217, 9273, 9395, 9460, 9525, 9590, 9655, 9720, 9792]
s6761 = [28, 140, 236, 415, 687, 758, 838, 1010, 1098, 1170, 1265, 1337, 1417, 1497, 1577, 1816, 1868, 2016, 2096, 2176,
         2248, 2351, 2475, 2567, 2655, 2727, 2834, 2894, 2974, 3054, 3134, 3194, 3285, 3353, 3433, 3513, 3593, 3673,
         3753, 3832, 3912, 4012, 4080, 4371, 4443, 4511, 4571, 4722, 4770, 4950, 5114, 5174, 5377, 5593, 5641, 5808,
         5916, 5992, 6052, 6112, 6204, 6359, 6423, 6551, 6611, 6671, 6790, 6830, 6958, 7010, 7078, 7130, 7369, 7401,
         7557, 7641, 7796, 7896, 7928, 8028, 8088, 8148, 8208, 8347, 8407, 8487, 8547, 8607, 8667, 8766, 8826, 8886,
         8946, 9006, 9066, 9257, 9313, 9393, 9545, 9597, 9665, 9745, 9804]
s6760 = [20, 299, 347, 439, 727, 838, 918, 1038, 1098, 1158, 1230, 1317, 1497, 1557, 1617, 1657, 1717, 1776, 1960, 2048,
         2120, 2184, 2248, 2335, 2495, 2774, 2834, 2914, 2982, 3054, 3205, 3261, 3353, 3413, 3473, 3533, 3593, 3673,
         3772, 4020, 4072, 4271, 4323, 4595, 4970, 5062, 5321, 5792, 5844, 5900, 5952, 6052, 6092, 6180, 6331, 6443,
         6511, 6890, 7078, 7150, 7202, 7337, 7569, 7689, 7749, 7788, 7908, 7968, 8088, 8148, 8208, 8287, 8367, 8427,
         8487, 8547, 8607, 8667, 8782, 8886, 8946, 9006, 9066, 9126, 9186, 9245, 9345, 9465, 9625, 9665, 9745, 9796]
s6759 = [80, 172, 228, 279, 339, 499, 527, 762, 878, 938, 998, 1078, 1170, 1249, 1317, 1449, 1517, 1557, 1637, 1689,
         1816, 1856, 2104, 2295, 2375, 2499, 2667, 2774, 2858, 3026, 3158, 3233, 3345, 3405, 3533, 3593, 3645, 3693,
         4204, 4252, 4427, 4770, 4910, 5006, 5054, 5102, 5353, 5393, 5729, 5880, 6072, 6132, 6311, 6922, 7042, 7098,
         7162, 7473, 7577, 7653, 7768, 7820, 7956, 8128, 8208, 8287, 8427, 8507, 8587, 8674, 8766, 8838, 8878, 9026,
         9074, 9209, 9269, 9349, 9429, 9501, 9609, 9697, 9757, 9832]
s6758 = [20, 60, 108, 607, 679, 731, 854, 1002, 1134, 1222, 1361, 1577, 1633, 1749, 1852, 2008, 2223, 2275, 2335, 2395,
         2495, 2547, 2587, 2655, 2747, 2918, 2982, 3146, 3185, 3385, 3505, 3561, 3673, 3888, 4271, 4583, 4727, 4810,
         4958, 5062, 5102, 5685, 5752, 5880, 5964, 6431, 6499, 6910, 6982, 7114, 7309, 7349, 7409, 7481, 7729, 7788,
         8228, 8275, 8335, 8559, 8671, 8826, 8906, 9425, 9485, 9573, 9633, 9685, 9737, 9832]
s6757 = [116, 200, 559, 599, 659, 727, 898, 966, 1086, 1182, 1325, 1409, 2223, 2315, 2395, 2587, 2870, 2978, 3042, 3086,
         3205, 3261, 3313, 3353, 3469, 3936, 4271, 4535, 4750, 4810, 5162, 5377, 5461, 5569, 5653, 5796, 6371, 7349,
         7417, 7689, 7737, 7836, 7876, 8120, 8236, 8287, 8335, 8379, 8599, 8695, 8806, 8854, 8934, 8986, 9066, 9425,
         9641, 9773]
s6756 = [100, 140, 180, 228, 403, 699, 758, 1960, 2068, 2140, 2283, 2335, 2451, 2523, 3205, 3373, 3433, 3745, 4080,
         4283, 4739, 5473, 5533, 5597, 6204, 7557, 7725, 7788, 7848, 7916, 8140, 8188, 8240, 8443, 8647, 8886, 9126,
         9221, 9473]
s6755 = [176, 1745, 2212, 2391, 2571, 2918, 3493, 4056, 5760, 6910, 7054, 7321, 7357, 7533, 8132, 8443, 8635, 8754,
         8838, 9054, 9118, 9689]
s6754 = [1385, 1505, 3361, 3948, 4439, 5413, 8359, 9233, 9377]
s6753 = [635, 679, 1265, 2295, 2894, 6347, 8850, 9210]
s6752 = [1026, 1912, 3110, 5665, 6216, 8347]
s6751 = [1613, 3325, 5533, 6623, 6898]
s6750 = [1241, 8228]
s6749 = [2882]

levels = [6790, 6788, 6787, 6786, 6785, 6784, 6783, 6782, 6781, 6780, 6779, 6778, 6777, 6776, 6775, 6774, 6773, 6772,
          6771, 6770, 6769, 6768, 6767, 6766, 6765, 6764, 6763, 6762, 6761, 6760, 6759, 6758, 6757, 6756, 6755, 6754,
          6753, 6752, 6751, 6750, 6749,
          6777, 6776, 6775, 6774, 6773, 6772, 6771, 6770, 6769, 6768, 6767, 6766, 6765, 6764, 6763]
samples = [s6790, s6788, s6787, s6786, s6785, s6784, s6783, s6782, s6781, s6780, s6779, s6778, s6777, s6776, s6775,
           s6774, s6773, s6772, s6771, s6770, s6769, s6768, s6767, s6766, s6765, s6764, s6763, s6762, s6761, s6760,
           s6759, s6758, s6757, s6756, s6755, s6754, s6753, s6752, s6751, s6750, s6749,
           d6777, d6776, d6775, d6774, d6773, d6772, d6771, d6770, d6769, d6768, d6767, d6766, d6765, d6764, d6763]

x = []
y = []
for level, row in zip(levels, samples):
    x.extend(row)
    y.extend([level] * len(row))

fig, ax = plt.subplots(figsize=(10, 10), dpi=100)
ax.plot(x, y, "k.", label="Samples\n$\\mu$ = 6769.84, $\\sigma$ = 5.72")
ax.set_title("Run 501, channel120, Pedestal")
ax.set_xlabel("Sample #")
ax.set_ylabel("ADC Counts")
ax.grid(True)
ax.legend(loc="upper right")
fig.tight_layout()
fig.subplots_adjust(top=0.965)
fig.savefig("out.png", dpi=100)
